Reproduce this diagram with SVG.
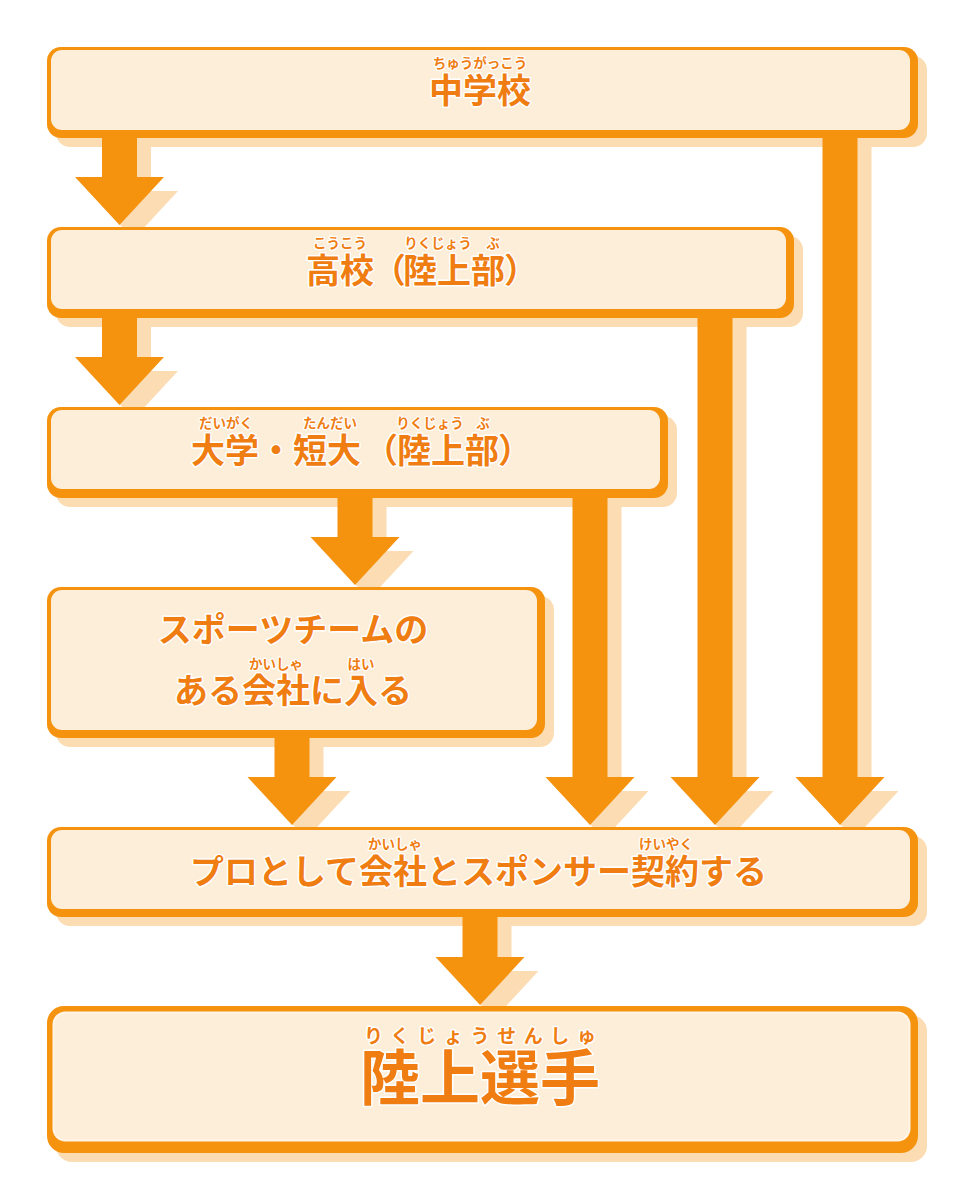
<svg xmlns="http://www.w3.org/2000/svg" xmlns:xlink="http://www.w3.org/1999/xlink" width="960" height="1195" viewBox="0 0 960 1195">
<style>
.sh{fill:#fcdcb3}
.arr{fill:#f5930f}
.frame{fill:#f5930f}
.cream{fill:#fdeed9}
.t{font-family:"Noto Sans CJK JP","Noto Sans CJK SC",sans-serif;font-weight:700;fill:#ef7d12;stroke:#ffffff;stroke-width:3;stroke-linejoin:round;paint-order:stroke}
.m{font-size:34px}
.r{font-size:13.5px;stroke-width:2.5}
.c{text-anchor:middle}
</style>
<defs>
<path id="a1" d="M102 130H137V177H164L119.5 225L75 177H102Z"/>
<path id="a2" d="M102 310H137V357H164L119.5 405L75 357H102Z"/>
<path id="a3" d="M337.5 490H372.5V537H399.5L355 585L310.5 537H337.5Z"/>
<path id="a4" d="M274.5 730H309.5V777H336.5L292 825L247.5 777H274.5Z"/>
<path id="a5" d="M572.5 490H607.5V777H634.5L590 825L545.5 777H572.5Z"/>
<path id="a6" d="M697.5 310H732.5V777H759.5L715 825L670.5 777H697.5Z"/>
<path id="a7" d="M822.5 130H857.5V777H884.5L840 825L795.5 777H822.5Z"/>
<path id="a8" d="M462.5 910H497.5V957H524.5L480 1005L435.5 957H462.5Z"/>
</defs>
<rect width="960" height="1195" fill="#ffffff"/>
<g id="shadows">
<rect class="sh" x="56" y="56" width="871" height="91" rx="14"/>
<rect class="sh" x="56" y="236" width="747" height="91" rx="14"/>
<rect class="sh" x="56" y="416" width="621" height="91" rx="14"/>
<rect class="sh" x="56" y="596" width="498" height="151" rx="14"/>
<rect class="sh" x="56" y="836" width="871" height="90" rx="14"/>
<rect class="sh" x="56" y="1015" width="871" height="147" rx="16"/>
<use xlink:href="#a1" class="sh" x="14" y="14"/>
<use xlink:href="#a2" class="sh" x="14" y="14"/>
<use xlink:href="#a3" class="sh" x="14" y="14"/>
<use xlink:href="#a4" class="sh" x="14" y="14"/>
<use xlink:href="#a5" class="sh" x="14" y="14"/>
<use xlink:href="#a6" class="sh" x="14" y="14"/>
<use xlink:href="#a7" class="sh" x="14" y="14"/>
<use xlink:href="#a8" class="sh" x="14" y="14"/>
</g>
<g id="connectors">
<use xlink:href="#a1" class="arr"/>
<use xlink:href="#a2" class="arr"/>
<use xlink:href="#a3" class="arr"/>
<use xlink:href="#a4" class="arr"/>
<use xlink:href="#a5" class="arr"/>
<use xlink:href="#a6" class="arr"/>
<use xlink:href="#a7" class="arr"/>
<use xlink:href="#a8" class="arr"/>
</g>
<g id="node-chugakko">
<rect class="frame" x="47" y="47" width="871" height="91" rx="14"/>
<rect class="cream" x="51" y="50" width="859" height="80" rx="11"/>
<text class="t r c" x="480" y="68">ちゅうがっこう</text>
<text class="t m c" x="480" y="103">中学校</text>
</g>
<g id="node-koko">
<rect class="frame" x="47" y="227" width="747" height="91" rx="14"/>
<rect class="cream" x="51" y="230" width="735" height="79" rx="11"/>
<text class="t r c" x="340" y="248">こうこう</text>
<text class="t r c" x="438" y="248">りくじょう</text>
<text class="t r c" x="493" y="248">ぶ</text>
<text class="t m" y="283"><tspan x="306">高校</tspan><tspan x="372">（</tspan><tspan x="403">陸上部</tspan><tspan x="504">）</tspan></text>
</g>
<g id="node-daigaku">
<rect class="frame" x="47" y="407" width="621" height="91" rx="14"/>
<rect class="cream" x="51" y="410" width="609" height="79" rx="11"/>
<text class="t r c" x="226" y="428">だいがく</text>
<text class="t r c" x="330" y="428">たんだい</text>
<text class="t r c" x="430" y="428">りくじょう</text>
<text class="t r c" x="483" y="428">ぶ</text>
<text class="t m" y="463"><tspan x="191">大学</tspan><tspan x="259">・</tspan><tspan x="293">短大</tspan><tspan x="364">（</tspan><tspan x="397">陸上部</tspan><tspan x="498">）</tspan></text>
</g>
<g id="node-kaisha">
<rect class="frame" x="47" y="587" width="498" height="151" rx="14"/>
<rect class="cream" x="51" y="590" width="486" height="140" rx="11"/>
<text class="t m c" x="293" y="642">スポーツチームの</text>
<text class="t r c" x="276" y="669">かいしゃ</text>
<text class="t r c" x="361" y="669">はい</text>
<text class="t m" x="174" y="703">ある会社に入る</text>
</g>
<g id="node-pro">
<rect class="frame" x="47" y="827" width="871" height="90" rx="14"/>
<rect class="cream" x="51" y="830" width="859" height="79" rx="11"/>
<text class="t r c" x="395" y="849">かいしゃ</text>
<text class="t r c" x="666" y="849">けいやく</text>
<text class="t m" x="190" y="884">プロとして会社とスポンサー契約する</text>
</g>
<g id="node-senshu">
<rect class="frame" x="47" y="1006" width="871" height="147" rx="17"/>
<rect class="cream" x="53.5" y="1012.5" width="856" height="128" rx="12" stroke="#fff4e6" stroke-width="2"/>
<text class="t" x="364" y="1043" font-size="19" textLength="232" lengthAdjust="spacing">りくじょうせんしゅ</text>
<text class="t" x="480" y="1100" font-size="60" text-anchor="middle" stroke-width="4">陸上選手</text>
</g>
</svg>
